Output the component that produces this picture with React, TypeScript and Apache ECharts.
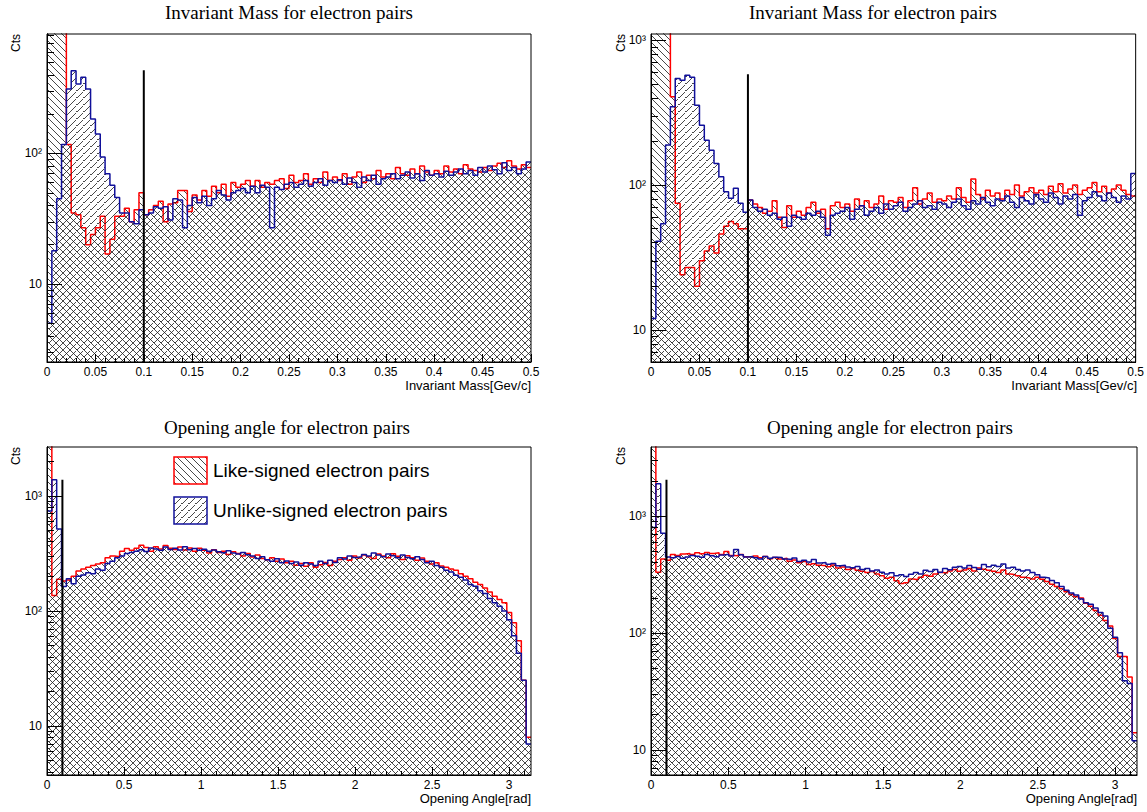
import React, { useEffect, useRef } from 'react';
import * as echarts from 'echarts';

// ---------- data ----------
const massRange = [0, 0.5];
const angleRange = [0, Math.PI];

// Invariant mass, left pad (100 bins, 0..0.5)
const tlLike = [
  1600, 1400, 1200, 1000, 117, 35, 34, 27, 20, 24,
  27, 33, 17, 22, 33, 33, 38, 30, 37, 50,
  34, 37, 40, 43, 30, 41, 42, 52, 52, 36,
  48, 44, 52, 47, 56, 50, 58, 47, 60, 55,
  58, 62, 56, 62, 55, 60, 58, 62, 64, 54,
  68, 60, 62, 70, 58, 64, 60, 72, 62, 66,
  62, 70, 58, 66, 72, 60, 68, 64, 74, 66,
  70, 64, 78, 70, 68, 76, 70, 80, 72, 68,
  74, 70, 80, 72, 76, 70, 82, 76, 74, 72,
  78, 74, 80, 84, 78, 88, 80, 76, 82, 78,
];
const tlUnlike = [
  5, 18, 45, 117, 312, 430, 340, 383, 312, 184,
  141, 94, 70, 57, 46, 35, 35, 30, 29, 37,
  34, 35, 39, 38, 39, 31, 45, 44, 27, 40,
  46, 42, 47, 40, 45, 52, 48, 44, 50, 52,
  54, 50, 56, 50, 57, 55, 27, 55, 53, 58,
  60, 55, 58, 62, 56, 60, 64, 57, 62, 60,
  63, 58, 65, 60, 55, 66, 62, 68, 58, 64,
  66, 70, 64, 68, 72, 65, 70, 62, 74, 68,
  70, 66, 73, 68, 72, 76, 70, 74, 68, 78,
  72, 80, 75, 70, 85, 74, 78, 70, 76, 86,
];

// Invariant mass, right pad
const trLike = [
  2000, 1800, 1600, 1400, 407, 75, 24, 27, 27, 20,
  30, 35, 38, 34, 46, 52, 56, 54, 50, 50,
  79, 74, 70, 64, 66, 78, 60, 51, 72, 60,
  66, 62, 70, 76, 64, 68, 50, 72, 76, 70,
  74, 66, 80, 72, 78, 70, 74, 84, 68, 78,
  76, 82, 70, 78, 96, 74, 80, 88, 76, 80,
  78, 84, 80, 96, 82, 76, 110, 86, 80, 92,
  84, 88, 80, 92, 86, 100, 84, 90, 96, 88,
  92, 86, 98, 90, 102, 88, 94, 100, 86, 92,
  96, 104, 90, 98, 88, 94, 100, 92, 86, 84,
];
const trUnlike = [
  12, 41, 54, 189, 347, 545, 530, 574, 555, 356,
  259, 204, 174, 141, 114, 90, 81, 95, 75, 65,
  79, 70, 66, 68, 62, 64, 58, 60, 52, 62,
  60, 58, 64, 62, 66, 60, 45, 62, 64, 66,
  70, 58, 68, 72, 62, 66, 70, 64, 74, 68,
  72, 76, 66, 70, 74, 78, 70, 72, 68, 76,
  74, 70, 76, 80, 72, 68, 78, 74, 82, 76,
  72, 80, 78, 84, 76, 70, 82, 78, 74, 86,
  80, 76, 88, 82, 74, 84, 80, 86, 62, 78,
  82, 90, 84, 78, 88, 82, 76, 84, 80, 120,
];

// Opening angle, left pad (100 bins, 0..pi)
const blLike = [
  4000, 136, 189, 182, 186, 200, 222, 232, 240, 248,
  256, 262, 290, 300, 296, 330, 348, 336, 350, 372,
  356, 330, 362, 346, 370, 350, 342, 360, 338, 352,
  330, 350, 336, 318, 340, 322, 330, 310, 326, 316,
  300, 316, 294, 306, 286, 278, 290, 270, 282, 262,
  270, 250, 258, 244, 262, 240, 252, 264, 248, 270,
  280, 290, 276, 300, 288, 306, 296, 286, 312, 300,
  290, 314, 298, 280, 302, 290, 276, 288, 270, 256,
  262, 246, 240, 232, 226, 210, 200, 190, 178, 170,
  158, 146, 134, 126, 118, 97, 79, 55, 25, 8,
];
const blUnlike = [
  739, 1380, 514, 163, 190, 172, 200, 205, 215, 210,
  232, 226, 258, 270, 290, 300, 316, 322, 330, 340,
  328, 352, 345, 336, 360, 342, 350, 338, 362, 340,
  348, 336, 344, 330, 338, 326, 320, 334, 318, 312,
  322, 308, 300, 286, 296, 278, 270, 284, 262, 272,
  258, 266, 250, 262, 256, 248, 270, 258, 276, 264,
  290, 282, 300, 292, 296, 310, 300, 318, 306, 296,
  312, 302, 290, 306, 292, 284, 296, 280, 262, 270,
  248, 240, 226, 218, 204, 196, 186, 170, 164, 150,
  142, 128, 118, 110, 100, 84, 61, 43, 25, 7,
];

// Opening angle, right pad
const brLike = [
  5000, 332, 430, 420, 470, 462, 474, 480, 470, 486,
  478, 490, 480, 486, 470, 500, 462, 458, 470, 450,
  446, 456, 440, 452, 432, 444, 430, 436, 412, 422,
  400, 410, 386, 392, 380, 376, 370, 382, 360, 368,
  350, 356, 344, 338, 330, 336, 320, 310, 294, 300,
  280, 266, 270, 290, 286, 300, 312, 306, 320, 330,
  326, 340, 350, 338, 346, 356, 340, 360, 352, 344,
  338, 330, 346, 320, 316, 310, 300, 296, 290, 300,
  288, 276, 262, 250, 240, 226, 214, 205, 200, 180,
  170, 156, 142, 128, 115, 90, 63, 63, 42, 14,
];
const brUnlike = [
  800, 1900, 716, 447, 440, 452, 436, 448, 462, 455,
  446, 470, 458, 450, 466, 472, 456, 520, 468, 448,
  452, 440, 430, 452, 436, 446, 444, 430, 426, 438,
  410, 420, 405, 426, 398, 402, 388, 394, 376, 380,
  368, 362, 372, 350, 356, 340, 346, 332, 320, 328,
  310, 316, 305, 318, 330, 320, 344, 336, 350, 332,
  356, 348, 366, 372, 360, 378, 364, 352, 386, 370,
  380, 372, 390, 360, 366, 350, 340, 346, 330, 316,
  300, 296, 282, 270, 250, 232, 220, 212, 196, 182,
  176, 164, 150, 140, 110, 92, 68, 39, 37, 12,
];

const cutX = 0.1;
const cutTops = [433, 583, 1380, 2046];
const yRanges = [[2.53, 822], [6, 1105], [3.76, 2655], [6.1, 3910]];

const massTicks = [0, 0.05, 0.1, 0.15, 0.2, 0.25, 0.3, 0.35, 0.4, 0.45, 0.5];
const massTickLabels = ['0', '0.05', '0.1', '0.15', '0.2', '0.25', '0.3', '0.35', '0.4', '0.45', '0.5'];
const angleTicks = [0, 0.5, 1, 1.5, 2, 2.5, 3];
const angleTickLabels = ['0', '0.5', '1', '1.5', '2', '2.5', '3'];
const logTicks = [10, 100, 1000];
const logTickLabels = ['10', '10\u00B2', '10\u00B3'];

const titles = ['Invariant Mass for electron pairs', 'Invariant Mass for electron pairs',
  'Opening angle for electron pairs', 'Opening angle for electron pairs'];
const xTitles = ['Invariant Mass[Gev/c]', 'Invariant Mass[Gev/c]', 'Opening Angle[rad]', 'Opening Angle[rad]'];
const legendLabels = ['Like-signed electron pairs', 'Unlike-signed electron pairs'];

// ---------- layout ----------
const pads = [
  { left: 47, top: 34, width: 484, height: 328, titleX: 289, titleY: 12, ctsX: 16 },
  { left: 651, top: 34, width: 486, height: 328, titleX: 873, titleY: 12, ctsX: 621 },
  { left: 47, top: 447, width: 484, height: 328, titleX: 287, titleY: 427, ctsX: 16 },
  { left: 651, top: 447, width: 486, height: 328, titleX: 890, titleY: 427, ctsX: 621 },
];

const RED = '#ff0000';
const BLUE = '#10109a';

// tile with "\" diagonal lines; the "/" version is the same kind of tile rotated by 90deg
function hatch(stroke: string, rotation: number) {
  const s = 7;
  const d = `M0 0L${s} ${s}M-1 ${s - 1}L1 ${s + 1}M${s - 1} -1L${s + 1} 1`;
  const svg = `<svg xmlns="http://www.w3.org/2000/svg" width="${s}" height="${s}"><path d="${d}" stroke="${stroke}" stroke-width="0.8" fill="none"/></svg>`;
  return {
    image: 'data:image/svg+xml;charset=utf-8,' + encodeURIComponent(svg),
    repeat: 'repeat',
    imageWidth: s,
    imageHeight: s,
    rotation,
  } as any;
}

function stepData(values: number[], lo: number, hi: number) {
  const w = (hi - lo) / values.length;
  const pts = values.map((v, i) => [lo + i * w, v]);
  pts.push([hi, values[values.length - 1]]);
  return pts;
}

function minorRange(lo: number, hi: number, step: number, majors: number[]) {
  const out: number[] = [];
  const n = Math.round((hi - lo) / step);
  for (let i = 0; i <= n; i++) {
    const v = +(lo + i * step).toFixed(6);
    if (v > hi) break;
    if (!majors.some((m) => Math.abs(m - v) < 1e-9)) out.push(v);
  }
  return out;
}

function logMinors(lo: number, hi: number) {
  const out: number[] = [];
  for (let e = 0; e <= 3; e++) {
    for (let k = 2; k <= 9; k++) {
      const v = k * Math.pow(10, e);
      if (v > lo && v < hi) out.push(v);
    }
  }
  return out;
}

export default function App() {
  const ref = useRef<HTMLDivElement>(null);
  useEffect(() => {
    if (!ref.current) return;
    const chart = echarts.init(ref.current, undefined, { renderer: 'svg' });
    const likeFill = hatch('#1a1a1a', 0);
    const unlikeFill = hatch('#1b1b1b', Math.PI / 2);
    const likes = [tlLike, trLike, blLike, brLike];
    const unlikes = [tlUnlike, trUnlike, blUnlike, brUnlike];
    const font = 'Liberation Sans';

    const grid: any[] = [];
    const xAxis: any[] = [];
    const yAxis: any[] = [];
    const series: any[] = [];
    const graphic: any[] = [];

    pads.forEach((p, k) => {
      const isMass = k < 2;
      const range = isMass ? massRange : angleRange;
      const majors = isMass ? massTicks : angleTicks;
      const majorLabels = isMass ? massTickLabels : angleTickLabels;
      const minors = isMass ? minorRange(0, 0.5, 0.01, massTicks) : minorRange(0, 3.1, 0.1, angleTicks);
      const [ymin, ymax] = yRanges[k];

      grid.push({
        left: p.left, top: p.top, width: p.width, height: p.height,
        show: true, borderColor: '#000', borderWidth: 1, backgroundColor: 'rgba(0,0,0,0)', z: 10,
      });
      xAxis.push({
        gridIndex: k, type: 'value', min: range[0], max: range[1], position: 'bottom', z: 10,
        axisLine: { show: true, onZero: false, lineStyle: { color: '#000', width: 1 } },
        axisTick: { show: true, inside: true, length: 8, customValues: majors, lineStyle: { color: '#000' } },
        axisLabel: {
          show: true, customValues: majors, margin: 4, fontSize: 12, fontFamily: font, color: '#000',
          formatter: (v: number) => {
            const i = majors.findIndex((m) => Math.abs(m - v) < 1e-9);
            return i >= 0 ? majorLabels[i] : '';
          },
        },
        splitLine: { show: false },
      });
      xAxis.push({
        gridIndex: k, type: 'value', min: range[0], max: range[1], position: 'bottom', z: 10,
        axisLine: { show: false, onZero: false },
        axisTick: { show: true, inside: true, length: 4, customValues: minors, lineStyle: { color: '#000' } },
        axisLabel: { show: false },
        splitLine: { show: false },
      });
      const yMajors = logTicks.filter((v) => v >= ymin && v <= ymax);
      yAxis.push({
        gridIndex: k, type: 'log', logBase: 10, min: ymin, max: ymax, position: 'left', z: 10,
        axisLine: { show: true, onZero: false, lineStyle: { color: '#000', width: 1 } },
        axisTick: { show: true, inside: true, length: 15, customValues: yMajors, lineStyle: { color: '#000' } },
        axisLabel: {
          show: true, customValues: yMajors, margin: 5, fontSize: 12, fontFamily: font, color: '#000',
          formatter: (v: number) => {
            const i = logTicks.findIndex((m) => Math.abs(m - v) / m < 1e-6);
            return i >= 0 ? logTickLabels[i] : '';
          },
        },
        splitLine: { show: false },
      });
      yAxis.push({
        gridIndex: k, type: 'log', logBase: 10, min: ymin, max: ymax, position: 'left', z: 10,
        axisLine: { show: false, onZero: false },
        axisTick: { show: true, inside: true, length: 7, customValues: logMinors(ymin, ymax), lineStyle: { color: '#000' } },
        axisLabel: { show: false },
        splitLine: { show: false },
      });

      series.push({
        type: 'line', name: legendLabels[0], xAxisIndex: 2 * k, yAxisIndex: 2 * k,
        data: stepData(likes[k], range[0], range[1]), step: 'end', symbol: 'none', clip: true,
        lineStyle: { color: RED, width: 1.5 }, itemStyle: { color: RED },
        areaStyle: { color: likeFill, opacity: 1, origin: 'start' }, z: 2,
      });
      series.push({
        type: 'line', name: legendLabels[1], xAxisIndex: 2 * k, yAxisIndex: 2 * k,
        data: stepData(unlikes[k], range[0], range[1]), step: 'end', symbol: 'none', clip: true,
        lineStyle: { color: BLUE, width: 1.5 }, itemStyle: { color: BLUE },
        areaStyle: { color: unlikeFill, opacity: 1, origin: 'start' }, z: 3,
      });
      series.push({
        type: 'line', xAxisIndex: 2 * k, yAxisIndex: 2 * k,
        data: [[cutX, ymin], [cutX, cutTops[k]]], symbol: 'none', clip: true,
        lineStyle: { color: '#000', width: 2 }, z: 4,
      });

      graphic.push({
        type: 'text', x: p.titleX, y: p.titleY, z: 20,
        style: { text: titles[k], font: '19px "Liberation Serif"', fill: '#000', textAlign: 'center', textVerticalAlign: 'middle' },
      });
      graphic.push({
        type: 'text', x: p.ctsX, y: p.top + 9, rotation: Math.PI / 2, z: 20,
        style: { text: 'Cts', font: `12px "${font}"`, fill: '#000', textAlign: 'center', textVerticalAlign: 'middle' },
      });
      graphic.push({
        type: 'text', x: p.left + p.width, y: p.top + p.height + 23, z: 20,
        style: { text: xTitles[k], font: `13px "${font}"`, fill: '#000', textAlign: 'right', textVerticalAlign: 'middle' },
      });
    });

    // legend (bottom-left pad)
    const lg = { x: 174, y: 457, w: 33, h: 27, gap: 40, textX: 213 };
    [likeFill, unlikeFill].forEach((fill, i) => {
      graphic.push({
        type: 'rect', z: 20,
        shape: { x: lg.x, y: lg.y + i * lg.gap, width: lg.w, height: lg.h },
        style: { fill, stroke: i === 0 ? RED : BLUE, lineWidth: 1.5 },
      });
      graphic.push({
        type: 'text', x: lg.textX, y: lg.y + i * lg.gap + lg.h / 2, z: 20,
        style: { text: legendLabels[i], font: `19px "${font}"`, fill: '#000', textAlign: 'left', textVerticalAlign: 'middle' },
      });
    });

    chart.setOption({
      animation: false,
      backgroundColor: '#fff',
      grid, xAxis, yAxis, series, graphic,
    });
    return () => chart.dispose();
  }, []);
  return <div ref={ref} style={{ position: 'fixed', left: 0, top: 0, width: 1147, height: 812 }} />;
}
